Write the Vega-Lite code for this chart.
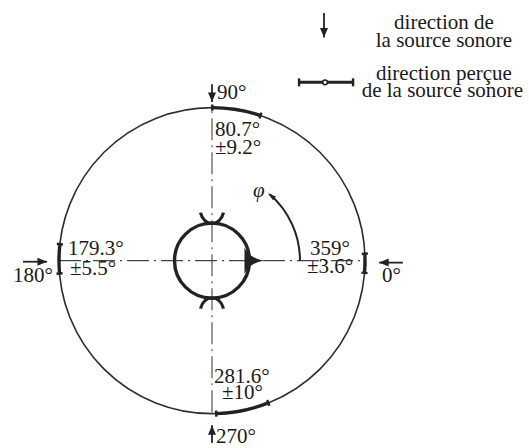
{
  "$schema": "https://vega.github.io/schema/vega-lite/v6.json",
  "width": 529,
  "height": 448,
  "autosize": {"type": "fit", "contains": "padding"},
  "padding": 0,
  "background": "white",
  "config": {
    "view": {"stroke": null},
    "text": {"font": "Liberation Serif", "fontSize": 21, "color": "#1a1a1a"}
  },
  "datasets": {
    "cercles": [
      {"nom": "champ", "r": 1},
      {"nom": "tete", "r": 0.245}
    ],
    "axes": [
      {"x": -1.0, "y": 0, "x2": 1.0, "y2": 0},
      {"x": 0, "y": -1.0, "x2": 0, "y2": 1.0}
    ],
    "sources": [
      {"role": "figure", "deg": 90, "x": 0, "y": 1.163, "x2": 0, "y2": 1.046},
      {"role": "figure", "deg": 180, "x": -1.235, "y": -0.007, "x2": -1.078, "y2": -0.007},
      {"role": "figure", "deg": 0, "x": 1.248, "y": -0.013, "x2": 1.092, "y2": -0.013},
      {"role": "figure", "deg": 270, "x": 0, "y": -1.203, "x2": 0, "y2": -1.085},
      {"role": "legende", "deg": 90, "x": 0.732, "y": 1.634, "x2": 0.732, "y2": 1.471}
    ],
    "percues": [
      {"source": 90, "moyenne": 80.7, "ecart": 9.2, "lo": 71.5, "hi": 89.9},
      {"source": 180, "moyenne": 179.3, "ecart": 5.5, "lo": 173.8, "hi": 184.8},
      {"source": 0, "moyenne": 359, "ecart": 3.6, "lo": 355.4, "hi": 362.6},
      {"source": 270, "moyenne": 281.6, "ecart": 10, "lo": 271.6, "hi": 291.6}
    ],
    "tete": [
      {"partie": "oreille", "deg": 90, "x": 0, "y": 0.245},
      {"partie": "oreille", "deg": 270, "x": 0, "y": -0.245}
    ],
    "nez": [
      {"partie": "nez", "deg": 0, "x": 0.245, "y": 0}
    ],
    "etiquettes": [
      {"t": "90°", "x": 0.033, "y": 1.065},
      {"t": "80.7°", "x": 0.020, "y": 0.822},
      {"t": "±9.2°", "x": 0.020, "y": 0.703},
      {"t": "179.3°", "x": -0.941, "y": 0.036},
      {"t": "±5.5°", "x": -0.928, "y": -0.095},
      {"t": "180°", "x": -1.301, "y": -0.144},
      {"t": "359°", "x": 0.641, "y": 0.036},
      {"t": "±3.6°", "x": 0.621, "y": -0.081},
      {"t": "0°", "x": 1.111, "y": -0.144},
      {"t": "281.6°", "x": 0.013, "y": -0.805},
      {"t": "±10°", "x": 0.065, "y": -0.911},
      {"t": "270°", "x": 0.026, "y": -1.203}
    ],
    "legende_textes": [
      {"t": "direction de", "x": 1.516, "y": 1.526},
      {"t": "la source sonore", "x": 1.516, "y": 1.409},
      {"t": "direction perçue", "x": 1.516, "y": 1.190},
      {"t": "de la source sonore", "x": 1.506, "y": 1.082}
    ],
    "legende_trait": [
      {"x": 0.569, "x2": 0.922, "xm": 0.739, "y": 1.176}
    ],
    "phi": [
      {"de": 0, "a": 49, "xt": 0.366, "yt": 0.444, "xl": 0.268, "yl": 0.418, "t": "φ"}
    ]
  },
  "layer": [
    {
      "data": {"name": "axes"},
      "mark": {"type": "rule", "stroke": "#444", "strokeWidth": 1.1, "strokeDash": [22, 5, 2, 5]},
      "encoding": {
        "x": {"field": "x", "type": "quantitative", "scale": {"domain": [-1.3856, 2.0719], "nice": false, "zero": false}, "axis": null},
        "y": {"field": "y", "type": "quantitative", "scale": {"domain": [-1.2092, 1.719], "nice": false, "zero": false}, "axis": null},
        "x2": {"field": "x2"},
        "y2": {"field": "y2"}
      }
    },
    {
      "data": {"name": "cercles"},
      "transform": [{"filter": "datum.nom == 'champ'"}],
      "mark": {"type": "arc", "filled": false, "stroke": "#2e2e2e", "strokeWidth": 1.6},
      "encoding": {
        "x": {"datum": 0, "type": "quantitative", "scale": {"domain": [-1.3856, 2.0719], "nice": false, "zero": false}, "axis": null},
        "y": {"datum": 0, "type": "quantitative", "scale": {"domain": [-1.2092, 1.719], "nice": false, "zero": false}, "axis": null},
        "theta": {"datum": 0, "type": "quantitative", "scale": {"domain": [0, 360], "range": [1.5707963267948966, -4.71238898038469]}, "stack": null},
        "theta2": {"datum": 360},
        "radius": {"field": "r", "type": "quantitative", "scale": {"type": "linear", "domain": [0, 1], "range": [0, 153], "zero": true}}
      }
    },
    {
      "data": {"name": "cercles"},
      "transform": [{"filter": "datum.nom == 'tete'"}],
      "mark": {"type": "arc", "filled": false, "stroke": "#222", "strokeWidth": 3.4},
      "encoding": {
        "x": {"datum": 0, "type": "quantitative", "scale": {"domain": [-1.3856, 2.0719], "nice": false, "zero": false}, "axis": null},
        "y": {"datum": 0, "type": "quantitative", "scale": {"domain": [-1.2092, 1.719], "nice": false, "zero": false}, "axis": null},
        "theta": {"datum": 0, "type": "quantitative", "scale": {"domain": [0, 360], "range": [1.5707963267948966, -4.71238898038469]}, "stack": null},
        "theta2": {"datum": 360},
        "radius": {"field": "r", "type": "quantitative", "scale": {"type": "linear", "domain": [0, 1], "range": [0, 153], "zero": true}}
      }
    },
    {
      "data": {"name": "tete"},
      "mark": {"type": "point", "shape": "M-1,-0.95C-0.7,0.3 0.7,0.3 1,-0.95", "filled": false, "stroke": "#222", "strokeWidth": 3.2, "size": 529, "opacity": 1},
      "encoding": {
        "x": {"field": "x", "type": "quantitative", "scale": {"domain": [-1.3856, 2.0719], "nice": false, "zero": false}, "axis": null},
        "y": {"field": "y", "type": "quantitative", "scale": {"domain": [-1.2092, 1.719], "nice": false, "zero": false}, "axis": null},
        "angle": {"field": "deg", "type": "quantitative", "scale": {"domain": [0, 360], "range": [90, -270]}}
      }
    },
    {
      "data": {"name": "nez"},
      "mark": {"type": "point", "shape": "M-1.3,0.5Q-0.25,0 0,-1.4Q0.25,0 1.3,0.5Z", "filled": true, "fill": "#222", "size": 400, "opacity": 1},
      "encoding": {
        "x": {"field": "x", "type": "quantitative", "scale": {"domain": [-1.3856, 2.0719], "nice": false, "zero": false}, "axis": null},
        "y": {"field": "y", "type": "quantitative", "scale": {"domain": [-1.2092, 1.719], "nice": false, "zero": false}, "axis": null},
        "angle": {"field": "deg", "type": "quantitative", "scale": {"domain": [0, 360], "range": [90, -270]}}
      }
    },
    {
      "data": {"name": "phi"},
      "mark": {"type": "arc", "filled": false, "stroke": "#222", "strokeWidth": 2},
      "encoding": {
        "x": {"datum": 0, "type": "quantitative", "scale": {"domain": [-1.3856, 2.0719], "nice": false, "zero": false}, "axis": null},
        "y": {"datum": 0, "type": "quantitative", "scale": {"domain": [-1.2092, 1.719], "nice": false, "zero": false}, "axis": null},
        "theta": {"field": "de", "type": "quantitative", "scale": {"domain": [0, 360], "range": [1.5707963267948966, -4.71238898038469]}, "stack": null},
        "theta2": {"field": "a"},
        "radius": {"datum": 0.575, "type": "quantitative", "scale": {"type": "linear", "domain": [0, 1], "range": [0, 153], "zero": true}},
        "radius2": {"datum": 0.575}
      }
    },
    {
      "data": {"name": "phi"},
      "mark": {"type": "point", "shape": "M0,0L-0.75,-2.6L0.75,-2.6Z", "filled": true, "fill": "#222", "size": 40, "angle": 128, "opacity": 1},
      "encoding": {
        "x": {"field": "xt", "type": "quantitative", "scale": {"domain": [-1.3856, 2.0719], "nice": false, "zero": false}, "axis": null},
        "y": {"field": "yt", "type": "quantitative", "scale": {"domain": [-1.2092, 1.719], "nice": false, "zero": false}, "axis": null}
      }
    },
    {
      "data": {"name": "phi"},
      "mark": {"type": "text", "align": "left", "baseline": "alphabetic", "fontStyle": "italic"},
      "encoding": {
        "x": {"field": "xl", "type": "quantitative", "scale": {"domain": [-1.3856, 2.0719], "nice": false, "zero": false}, "axis": null},
        "y": {"field": "yl", "type": "quantitative", "scale": {"domain": [-1.2092, 1.719], "nice": false, "zero": false}, "axis": null},
        "text": {"field": "t"}
      }
    },
    {
      "data": {"name": "percues"},
      "mark": {"type": "arc", "fill": "#222"},
      "encoding": {
        "x": {"datum": 0, "type": "quantitative", "scale": {"domain": [-1.3856, 2.0719], "nice": false, "zero": false}, "axis": null},
        "y": {"datum": 0, "type": "quantitative", "scale": {"domain": [-1.2092, 1.719], "nice": false, "zero": false}, "axis": null},
        "theta": {"field": "lo", "type": "quantitative", "scale": {"domain": [0, 360], "range": [1.5707963267948966, -4.71238898038469]}, "stack": null},
        "theta2": {"field": "hi"},
        "radius": {"datum": 1.011, "type": "quantitative", "scale": {"type": "linear", "domain": [0, 1], "range": [0, 153], "zero": true}},
        "radius2": {"datum": 0.989}
      }
    },
    {
      "data": {"name": "percues"},
      "mark": {"type": "arc", "filled": false, "stroke": "#222", "strokeWidth": 2.4},
      "encoding": {
        "x": {"datum": 0, "type": "quantitative", "scale": {"domain": [-1.3856, 2.0719], "nice": false, "zero": false}, "axis": null},
        "y": {"datum": 0, "type": "quantitative", "scale": {"domain": [-1.2092, 1.719], "nice": false, "zero": false}, "axis": null},
        "theta": {"field": "lo", "type": "quantitative", "scale": {"domain": [0, 360], "range": [1.5707963267948966, -4.71238898038469]}, "stack": null},
        "theta2": {"field": "lo"},
        "radius": {"datum": 1.02, "type": "quantitative", "scale": {"type": "linear", "domain": [0, 1], "range": [0, 153], "zero": true}},
        "radius2": {"datum": 0.98}
      }
    },
    {
      "data": {"name": "percues"},
      "mark": {"type": "arc", "filled": false, "stroke": "#222", "strokeWidth": 2.4},
      "encoding": {
        "x": {"datum": 0, "type": "quantitative", "scale": {"domain": [-1.3856, 2.0719], "nice": false, "zero": false}, "axis": null},
        "y": {"datum": 0, "type": "quantitative", "scale": {"domain": [-1.2092, 1.719], "nice": false, "zero": false}, "axis": null},
        "theta": {"field": "hi", "type": "quantitative", "scale": {"domain": [0, 360], "range": [1.5707963267948966, -4.71238898038469]}, "stack": null},
        "theta2": {"field": "hi"},
        "radius": {"datum": 1.02, "type": "quantitative", "scale": {"type": "linear", "domain": [0, 1], "range": [0, 153], "zero": true}},
        "radius2": {"datum": 0.98}
      }
    },
    {
      "data": {"name": "percues"},
      "mark": {"type": "arc", "filled": false, "stroke": "#222", "strokeWidth": 5, "strokeCap": "round"},
      "encoding": {
        "x": {"datum": 0, "type": "quantitative", "scale": {"domain": [-1.3856, 2.0719], "nice": false, "zero": false}, "axis": null},
        "y": {"datum": 0, "type": "quantitative", "scale": {"domain": [-1.2092, 1.719], "nice": false, "zero": false}, "axis": null},
        "theta": {"field": "moyenne", "type": "quantitative", "scale": {"domain": [0, 360], "range": [1.5707963267948966, -4.71238898038469]}, "stack": null},
        "theta2": {"field": "moyenne"},
        "radius": {"datum": 1.008, "type": "quantitative", "scale": {"type": "linear", "domain": [0, 1], "range": [0, 153], "zero": true}},
        "radius2": {"datum": 0.992}
      }
    },
    {
      "data": {"name": "sources"},
      "mark": {"type": "rule", "stroke": "#222", "strokeWidth": 1.8},
      "encoding": {
        "x": {"field": "x", "type": "quantitative", "scale": {"domain": [-1.3856, 2.0719], "nice": false, "zero": false}, "axis": null},
        "y": {"field": "y", "type": "quantitative", "scale": {"domain": [-1.2092, 1.719], "nice": false, "zero": false}, "axis": null},
        "x2": {"field": "x2"},
        "y2": {"field": "y2"}
      }
    },
    {
      "data": {"name": "sources"},
      "mark": {"type": "point", "shape": "M0,0L-1,-2.4L1,-2.4Z", "filled": true, "fill": "#222", "size": 64, "opacity": 1},
      "encoding": {
        "x": {"field": "x2", "type": "quantitative", "scale": {"domain": [-1.3856, 2.0719], "nice": false, "zero": false}, "axis": null},
        "y": {"field": "y2", "type": "quantitative", "scale": {"domain": [-1.2092, 1.719], "nice": false, "zero": false}, "axis": null},
        "angle": {"field": "deg", "type": "quantitative", "scale": {"domain": [0, 360], "range": [90, -270]}}
      }
    },
    {
      "data": {"name": "legende_trait"},
      "mark": {"type": "rule", "stroke": "#222", "strokeWidth": 3},
      "encoding": {
        "x": {"field": "x", "type": "quantitative", "scale": {"domain": [-1.3856, 2.0719], "nice": false, "zero": false}, "axis": null},
        "y": {"field": "y", "type": "quantitative", "scale": {"domain": [-1.2092, 1.719], "nice": false, "zero": false}, "axis": null},
        "x2": {"field": "x2"}
      }
    },
    {
      "data": {"name": "legende_trait"},
      "mark": {"type": "point", "shape": "M0,-1L0,1", "filled": false, "stroke": "#222", "strokeWidth": 2.4, "size": 64, "opacity": 1},
      "encoding": {
        "x": {"field": "x", "type": "quantitative", "scale": {"domain": [-1.3856, 2.0719], "nice": false, "zero": false}, "axis": null},
        "y": {"field": "y", "type": "quantitative", "scale": {"domain": [-1.2092, 1.719], "nice": false, "zero": false}, "axis": null}
      }
    },
    {
      "data": {"name": "legende_trait"},
      "mark": {"type": "point", "shape": "M0,-1L0,1", "filled": false, "stroke": "#222", "strokeWidth": 2.4, "size": 64, "opacity": 1},
      "encoding": {
        "x": {"field": "x2", "type": "quantitative", "scale": {"domain": [-1.3856, 2.0719], "nice": false, "zero": false}, "axis": null},
        "y": {"field": "y", "type": "quantitative", "scale": {"domain": [-1.2092, 1.719], "nice": false, "zero": false}, "axis": null}
      }
    },
    {
      "data": {"name": "legende_trait"},
      "mark": {"type": "point", "shape": "circle", "filled": true, "fill": "white", "stroke": "#222", "strokeWidth": 1.6, "size": 22, "opacity": 1},
      "encoding": {
        "x": {"field": "xm", "type": "quantitative", "scale": {"domain": [-1.3856, 2.0719], "nice": false, "zero": false}, "axis": null},
        "y": {"field": "y", "type": "quantitative", "scale": {"domain": [-1.2092, 1.719], "nice": false, "zero": false}, "axis": null}
      }
    },
    {
      "data": {"name": "etiquettes"},
      "mark": {"type": "text", "align": "left", "baseline": "alphabetic"},
      "encoding": {
        "x": {"field": "x", "type": "quantitative", "scale": {"domain": [-1.3856, 2.0719], "nice": false, "zero": false}, "axis": null},
        "y": {"field": "y", "type": "quantitative", "scale": {"domain": [-1.2092, 1.719], "nice": false, "zero": false}, "axis": null},
        "text": {"field": "t"}
      }
    },
    {
      "data": {"name": "legende_textes"},
      "mark": {"type": "text", "align": "center", "baseline": "alphabetic"},
      "encoding": {
        "x": {"field": "x", "type": "quantitative", "scale": {"domain": [-1.3856, 2.0719], "nice": false, "zero": false}, "axis": null},
        "y": {"field": "y", "type": "quantitative", "scale": {"domain": [-1.2092, 1.719], "nice": false, "zero": false}, "axis": null},
        "text": {"field": "t"}
      }
    }
  ]
}
